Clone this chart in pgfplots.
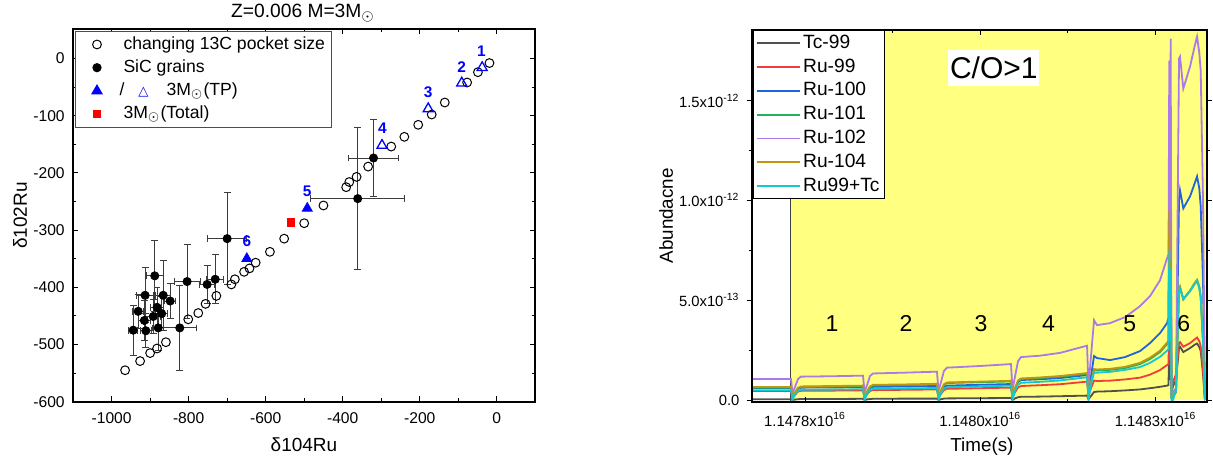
\documentclass[border=0pt]{standalone}
\usepackage{fontspec}
\setmainfont{Liberation Sans}
\newfontfamily\symfont{DejaVu Sans}
\usepackage{pgfplots}
\pgfplotsset{compat=1.18}

\definecolor{cTc}{RGB}{80,80,80}
\definecolor{cRuA}{RGB}{240,60,60}
\definecolor{cRuB}{RGB}{30,100,220}
\definecolor{cRuC}{RGB}{30,178,90}
\definecolor{cRuD}{RGB}{172,122,232}
\definecolor{cRuE}{RGB}{190,150,20}
\definecolor{cSum}{RGB}{20,200,210}
\definecolor{bgyellow}{RGB}{255,255,128}
\definecolor{errgray}{RGB}{60,60,60}

% legend picture of a single marker, with room on both sides
\pgfplotsset{mark legend/.style={legend image code/.code={%
  \path (-9.5pt,0pt) (11pt,0pt);
  \draw[##1] plot coordinates {(0pt,0pt)};}}}

% SiC grain measurements: delta104Ru, delta102Ru and their uncertainties
\pgfplotstableread{
x     y     ex   ey
-320  -174  64   67
-361  -245  122  124
-700  -315  51   80
-804  -390  34   65
-823  -471  43   74
-752  -395  20   33
-731  -386  22   43
-888  -380  22   62
-866  -414  20   61
-913  -414  23   48
-848  -424  14   31
-931  -442  15   30
-882  -435  18   35
-870  -446  15   30
-892  -451  20   30
-915  -458  15   35
-944  -475  12   44
-911  -476  15   30
-879  -471  15   40
}\grains

\begin{document}
\begin{tikzpicture}
\useasboundingbox (0,0) rectangle (606.5pt,232.5pt);
\clip (0,0) rectangle (606.5pt,232.5pt);

% ---------------- left panel: delta102Ru vs delta104Ru ----------------
\begin{axis}[
  at={(36.35pt,31.65pt)}, anchor=south west,
  width=231.3pt, height=186.2pt, scale only axis,
  xmin=-1101, xmax=100, ymin=-600, ymax=51,
  xtick={-1000,-800,-600,-400,-200,0},
  ytick={-600,-500,-400,-300,-200,-100,0},
  minor x tick num=1, minor y tick num=1,
  tick align=inside,
  major tick length=2.6pt, minor tick length=1.6pt,
  axis line style={line width=0.9pt},
  every tick/.style={black, line width=0.5pt},
  /pgf/number format/assume math mode=true,
  /pgf/number format/set thousands separator={},
  tick label style={font=\fontsize{7.8}{9}\selectfont},
  xticklabel style={yshift=-2pt},
  yticklabel style={xshift=-0.5pt},
  xlabel={δ104Ru}, ylabel={δ102Ru},
  label style={font=\fontsize{9.5}{11}\selectfont},
  xlabel style={at={(axis description cs:0.5,-0.116)}, anchor=center},
  ylabel style={at={(axis description cs:-0.114,0.5)}, anchor=center},
  clip=false,
  legend style={at={(axis description cs:0,1)}, anchor=north west,
    xshift=1.15pt, yshift=-0.85pt, draw=black!70, line width=0.5pt,
    font=\fontsize{8.8}{10}\selectfont, inner xsep=1pt, inner ysep=1.2pt,
    row sep=1.0pt,
    nodes={inner ysep=1.2pt, text height=6.4pt, text depth=1.8pt}},
  legend cell align=left,
]
\addplot[only marks, mark=o, mark size=2.2pt, black, mark options={line width=0.5pt}, mark legend] coordinates {
(-19,-8) (-49,-24) (-77,-42) (-135,-77) (-169,-98) (-204,-116) (-240,-137)
(-274,-154) (-334,-189) (-364,-207) (-383,-216) (-391,-225) (-450,-257)
(-500,-288) (-552,-315) (-589,-338) (-626,-357) (-642,-367) (-656,-373)
(-680,-386) (-689,-395) (-728,-415) (-756,-429) (-775,-445) (-801,-456)
(-859,-496) (-882,-507) (-900,-515) (-926,-529) (-965,-545)
};
\addlegendentry{changing 13C pocket size}

\addplot[only marks, mark=*, mark size=2.05pt, black, mark legend,
  error bars/.cd, x dir=both, x explicit, y dir=both, y explicit,
  error bar style={errgray, line width=0.5pt},
  error mark options={rotate=90, mark size=1.7pt, errgray, line width=0.5pt}]
  table[x=x, y=y, x error=ex, y error=ey] {\grains};
\addlegendentry{SiC grains}

\addplot[only marks, mark=triangle*, mark size=2.9pt, blue, mark legend] coordinates {
(-492,-262) (-649,-350)
};
\addlegendentry{\hspace*{-2pt}/\hspace{7pt}{\symfont\fontsize{6.6}{7}\selectfont\textcolor{blue}{△}}\hspace{9pt}3M$_{\odot}$(TP)}

\addplot[only marks, mark=triangle, mark size=2.9pt, blue, mark options={line width=0.65pt}, forget plot] coordinates {
(-38,-16) (-91,-43) (-178,-88) (-298,-152)
};

\addplot[only marks, mark=square*, mark size=1.9pt, red, mark legend] coordinates {(-535,-287)};
\addlegendentry{3M$_{\odot}$(Total)}

% panel title
\node[font=\fontsize{9.6}{11}\selectfont, anchor=center]
  at (axis description cs:0.498,1.044) {Z=0.006 M=3M$_{\odot}$};

% pulse numbers
\begin{scope}[every node/.style={font=\bfseries\fontsize{7.7}{8}\selectfont, text=blue, inner sep=0pt}]
\node at (axis cs:-40,13) {1};
\node at (axis cs:-91,-15) {2};
\node at (axis cs:-178,-59) {3};
\node at (axis cs:-297,-122) {4};
\node at (axis cs:-492,-233) {5};
\node at (axis cs:-649,-320) {6};
\end{scope}
\end{axis}

% ---------------- right panel: abundances vs time ----------------
\begin{axis}[
  at={(375.85pt,31.65pt)}, anchor=south west,
  width=227.5pt, height=185.85pt, scale only axis,
  xmin=-0.760, xmax=5.729, ymin=-0.0085, ymax=1.8535,
  xtick={0,2.5,5},
  xticklabels={1.1478x10\textsuperscript{16},1.1480x10\textsuperscript{16},1.1483x10\textsuperscript{16}},
  ytick={0,0.5,1,1.5},
  yticklabels={0.0,5.0x10\textsuperscript{-13},1.0x10\textsuperscript{-12},1.5x10\textsuperscript{-12}},
  minor x tick num=1, minor y tick num=1,
  xtick align=inside, ytick align=outside,
  major tick length=2.6pt, minor tick length=1.6pt,
  axis line style={line width=0.9pt},
  every tick/.style={black, line width=0.5pt},
  axis on top,
  tick label style={font=\fontsize{7.4}{9}\selectfont},
  xticklabel style={yshift=-2pt},
  xlabel={Time(s)}, ylabel={Abundacne},
  label style={font=\fontsize{9.4}{11}\selectfont},
  xlabel style={at={(axis description cs:0.506,-0.121)}, anchor=center},
  ylabel style={at={(axis description cs:-0.188,0.5)}, anchor=center},
  legend image code/.code={\draw[#1] plot coordinates {(0pt,0pt) (21.5pt,0pt)};},
  legend style={at={(axis description cs:0,1)}, anchor=north west,
    xshift=0.8pt, draw=black, fill=white, line width=0.5pt,
    font=\fontsize{9.6}{11}\selectfont, inner xsep=1pt, inner ysep=0.6pt,
    row sep=0.3pt,
    nodes={inner ysep=1.3pt, inner xsep=1.3pt, text height=7pt, text depth=2pt}},
  legend cell align=left,
  every axis plot/.append style={line width=0.9pt},
]
% C/O>1 phase background
\addplot[fill=bgyellow, draw=none, forget plot] coordinates {(-0.2,-0.1) (-0.2,2) (6,2) (6,-0.1)} \closedcycle;
\addplot[black!75, line width=0.5pt, forget plot] coordinates {(-0.2,-0.1) (-0.2,2)};

\addplot[cTc] coordinates {
(-0.760,0.004) (-0.200,0.004) (-0.178,0.000) (-0.143,0.002) (-0.100,0.004) (-0.057,0.005)
(0.385,0.005) (0.827,0.006) (0.849,0.000) (0.884,0.003) (0.927,0.005) (0.970,0.006)
(1.426,0.007) (1.882,0.007) (1.904,0.000) (1.940,0.004) (1.982,0.007) (2.025,0.008)
(2.481,0.009) (2.938,0.010) (2.959,0.000) (2.995,0.008) (3.038,0.014) (3.080,0.016)
(3.351,0.017) (3.637,0.019) (4.022,0.022) (4.043,0.005) (4.079,0.020) (4.122,0.040)
(4.164,0.042) (4.350,0.044) (4.564,0.048) (4.778,0.053) (4.920,0.059) (5.063,0.066)
(5.163,0.072) (5.184,0.075) (5.195,0.300) (5.205,0.100) (5.215,0.300) (5.227,0.040)
(5.248,0.070) (5.291,0.100) (5.334,0.262) (5.348,0.267) (5.395,0.240) (5.491,0.260)
(5.562,0.278) (5.591,0.283) (5.623,0.265) (5.643,0.245) (5.676,0.130) (5.704,0.000)
};
\addlegendentry{Tc-99}

\addplot[cRuA] coordinates {
(-0.760,0.045) (-0.200,0.045) (-0.178,0.010) (-0.143,0.026) (-0.100,0.042) (-0.057,0.046)
(0.385,0.047) (0.827,0.048) (0.849,0.010) (0.884,0.028) (0.927,0.045) (0.970,0.050)
(1.426,0.051) (1.882,0.053) (1.904,0.012) (1.940,0.031) (1.982,0.050) (2.025,0.056)
(2.481,0.059) (2.938,0.062) (2.959,0.015) (2.995,0.039) (3.038,0.063) (3.080,0.070)
(3.351,0.074) (3.637,0.079) (4.022,0.092) (4.043,0.020) (4.079,0.060) (4.122,0.097)
(4.164,0.095) (4.350,0.097) (4.564,0.103) (4.778,0.112) (4.920,0.127) (5.063,0.150)
(5.163,0.175) (5.184,0.180) (5.195,0.450) (5.205,0.200) (5.215,0.350) (5.227,0.050)
(5.248,0.090) (5.291,0.130) (5.334,0.285) (5.348,0.290) (5.395,0.267) (5.491,0.285)
(5.562,0.305) (5.591,0.313) (5.623,0.295) (5.643,0.270) (5.676,0.150) (5.704,0.000)
};
\addlegendentry{Ru-99}

\addplot[cRuB] coordinates {
(-0.760,0.060) (-0.200,0.060) (-0.178,0.015) (-0.143,0.034) (-0.100,0.056) (-0.057,0.062)
(0.385,0.063) (0.827,0.064) (0.849,0.015) (0.884,0.036) (0.927,0.060) (0.970,0.066)
(1.426,0.068) (1.882,0.070) (1.904,0.018) (1.940,0.040) (1.982,0.065) (2.025,0.072)
(2.481,0.076) (2.938,0.080) (2.959,0.020) (2.995,0.055) (3.038,0.090) (3.080,0.100)
(3.351,0.104) (3.637,0.110) (4.022,0.125) (4.043,0.030) (4.079,0.120) (4.122,0.220)
(4.164,0.210) (4.350,0.200) (4.564,0.215) (4.778,0.245) (4.920,0.285) (5.063,0.335)
(5.163,0.385) (5.184,0.410) (5.195,1.200) (5.205,0.500) (5.215,1.000) (5.227,0.020)
(5.248,0.020) (5.291,0.040) (5.334,1.000) (5.348,1.050) (5.395,0.960) (5.491,1.020)
(5.562,1.090) (5.591,1.120) (5.623,1.060) (5.643,0.970) (5.676,0.600) (5.704,0.000)
};
\addlegendentry{Ru-100}

\addplot[cRuC] coordinates {
(-0.760,0.062) (-0.200,0.062) (-0.178,0.018) (-0.143,0.035) (-0.100,0.058) (-0.057,0.065)
(0.385,0.067) (0.827,0.069) (0.849,0.018) (0.884,0.040) (0.927,0.065) (0.970,0.073)
(1.426,0.075) (1.882,0.078) (1.904,0.020) (1.940,0.046) (1.982,0.076) (2.025,0.085)
(2.481,0.089) (2.938,0.093) (2.959,0.022) (2.995,0.057) (3.038,0.094) (3.080,0.105)
(3.351,0.110) (3.637,0.117) (4.022,0.131) (4.043,0.028) (4.079,0.087) (4.122,0.150)
(4.164,0.148) (4.350,0.151) (4.564,0.160) (4.778,0.180) (4.920,0.205) (5.063,0.240)
(5.163,0.280) (5.184,0.290) (5.195,0.900) (5.205,0.300) (5.215,0.700) (5.227,0.015)
(5.248,0.020) (5.291,0.040) (5.334,0.550) (5.348,0.565) (5.395,0.505) (5.491,0.548)
(5.562,0.588) (5.591,0.602) (5.623,0.568) (5.643,0.518) (5.676,0.300) (5.704,0.000)
};
\addlegendentry{Ru-101}

\addplot[cRuD] coordinates {
(-0.760,0.105) (-0.200,0.105) (-0.178,0.035) (-0.143,0.064) (-0.100,0.105) (-0.057,0.117)
(0.385,0.119) (0.827,0.122) (0.849,0.040) (0.884,0.073) (0.927,0.120) (0.970,0.133)
(1.426,0.137) (1.882,0.142) (1.904,0.045) (1.940,0.090) (1.982,0.146) (2.025,0.162)
(2.481,0.170) (2.938,0.180) (2.959,0.050) (2.995,0.118) (3.038,0.194) (3.080,0.215)
(3.351,0.222) (3.637,0.236) (4.022,0.272) (4.043,0.070) (4.079,0.220) (4.122,0.400)
(4.164,0.375) (4.350,0.385) (4.564,0.415) (4.778,0.470) (4.920,0.520) (5.063,0.600)
(5.163,0.710) (5.184,0.730) (5.195,1.700) (5.205,0.600) (5.215,1.810) (5.227,0.030)
(5.248,0.040) (5.291,0.060) (5.334,1.710) (5.348,1.720) (5.395,1.560) (5.491,1.670)
(5.562,1.780) (5.591,1.820) (5.623,1.740) (5.643,1.650) (5.676,1.000) (5.704,0.000)
};
\addlegendentry{Ru-102}

\addplot[cRuE] coordinates {
(-0.760,0.065) (-0.200,0.065) (-0.178,0.020) (-0.143,0.037) (-0.100,0.061) (-0.057,0.068)
(0.385,0.070) (0.827,0.072) (0.849,0.020) (0.884,0.042) (0.927,0.068) (0.970,0.076)
(1.426,0.078) (1.882,0.081) (1.904,0.022) (1.940,0.048) (1.982,0.079) (2.025,0.088)
(2.481,0.092) (2.938,0.096) (2.959,0.025) (2.995,0.059) (3.038,0.097) (3.080,0.108)
(3.351,0.113) (3.637,0.120) (4.022,0.135) (4.043,0.030) (4.079,0.090) (4.122,0.155)
(4.164,0.153) (4.350,0.156) (4.564,0.166) (4.778,0.186) (4.920,0.212) (5.063,0.247)
(5.163,0.287) (5.184,0.297) (5.195,0.950) (5.205,0.300) (5.215,0.700) (5.227,0.020)
(5.248,0.025) (5.291,0.045) (5.334,0.555) (5.348,0.567) (5.395,0.503) (5.491,0.547)
(5.562,0.588) (5.591,0.600) (5.623,0.566) (5.643,0.516) (5.676,0.300) (5.704,0.000)
};
\addlegendentry{Ru-104}

\addplot[cSum] coordinates {
(-0.760,0.049) (-0.200,0.049) (-0.178,0.000) (-0.143,0.028) (-0.100,0.046) (-0.057,0.051)
(0.385,0.052) (0.827,0.054) (0.849,0.000) (0.884,0.031) (0.927,0.050) (0.970,0.056)
(1.426,0.058) (1.882,0.060) (1.904,0.000) (1.940,0.035) (1.982,0.057) (2.025,0.064)
(2.481,0.068) (2.938,0.072) (2.959,0.000) (2.995,0.047) (3.038,0.077) (3.080,0.086)
(3.351,0.091) (3.637,0.098) (4.022,0.114) (4.043,0.000) (4.079,0.080) (4.122,0.137)
(4.164,0.137) (4.350,0.141) (4.564,0.151) (4.778,0.165) (4.920,0.186) (5.063,0.216)
(5.163,0.247) (5.184,0.255) (5.195,0.750) (5.205,0.300) (5.215,0.650) (5.227,0.000)
(5.248,0.000) (5.291,0.050) (5.334,0.547) (5.348,0.557) (5.395,0.507) (5.491,0.545)
(5.562,0.583) (5.591,0.596) (5.623,0.560) (5.643,0.515) (5.676,0.280) (5.704,0.000)
};
\addlegendentry{Ru99+Tc}

% annotations
\node[fill=white, inner sep=0pt, minimum width=45.5pt, minimum height=17.9pt,
      text height=10.8pt, text depth=0pt, font=\fontsize{15}{15}\selectfont]
      at (axis cs:2.693,1.664) {C/O>1};
\begin{scope}[every node/.style={font=\fontsize{11.5}{12}\selectfont, inner sep=0pt, text height=8.3pt, text depth=0pt}]
\node at (axis cs:0.384,0.3835) {1};
\node at (axis cs:1.440,0.3835) {2};
\node at (axis cs:2.510,0.3835) {3};
\node at (axis cs:3.474,0.3835) {4};
\node at (axis cs:4.632,0.3835) {5};
\node at (axis cs:5.402,0.3835) {6};
\end{scope}
\end{axis}
\end{tikzpicture}
\end{document}
